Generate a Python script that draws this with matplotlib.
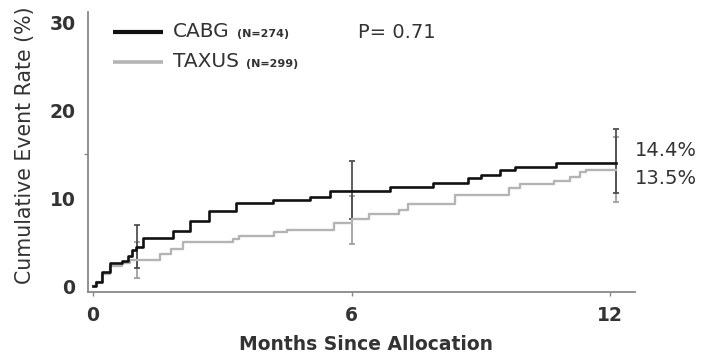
import matplotlib
matplotlib.use("Agg")
import matplotlib.pyplot as plt
import numpy as np

plt.rcParams['font.family'] = ['DejaVu Sans']

# ---- data ----
cabg_t = [0, 0.07, 0.2, 0.4, 0.67, 0.82, 0.9, 1.0, 1.16, 1.86, 2.25, 2.7, 3.33, 4.18, 5.04, 5.5,
          6.9, 7.9, 8.7, 9.0, 9.45, 9.8, 10.75, 12.15]
cabg_v = [0, 0.4, 1.6, 2.6, 2.9, 3.4, 4.1, 4.5, 5.5, 6.3, 7.4, 8.6, 9.4, 9.8, 10.1, 10.8,
          11.3, 11.7, 12.35, 12.7, 13.2, 13.6, 14.0, 14.0]
taxus_t = [0, 0.07, 0.2, 0.4, 0.67, 0.85, 1.55, 1.8, 2.1, 3.25, 3.4, 4.2, 4.5, 5.6, 6.0, 6.4,
           7.1, 7.3, 8.4, 9.65, 9.9, 10.7, 11.07, 11.3, 11.45, 12.15]
taxus_v = [0, 0.4, 1.4, 2.3, 2.6, 3.0, 3.6, 4.2, 5.0, 5.3, 5.7, 6.1, 6.4, 7.2, 7.6, 8.2,
           8.7, 9.3, 10.4, 11.2, 11.6, 12.0, 12.4, 13.0, 13.2, 13.2]

ci_x = [1.03, 6.0, 12.15]
cabg_ci_mid = [4.5, 10.8, 14.0]
cabg_ci_low = [2.0, 7.6, 10.6]
cabg_ci_high = [7.0, 14.2, 17.9]
taxus_ci_mid = [3.0, 7.6, 13.2]
taxus_ci_low = [0.9, 4.8, 9.6]
taxus_ci_high = [5.0, 10.2, 17.0]

x_ticks = [0, 6, 12]
y_ticks = [0, 10, 20, 30]
end_labels = ["14.4%", "13.5%"]
series_names = ["CABG", "TAXUS"]
series_n = ["(N=274)", "(N=299)"]
p_text = "P= 0.71"

TXT = '#333333'
BLACK = '#111111'
GRAY = '#b4b4b4'

fig = plt.figure(figsize=(7.07, 3.58), dpi=100)
ax = fig.add_axes([88/707, 1-292/358, (635-88)/707, (292-12)/358])
ppm = (610-93)/12.0
ppu = (286-22.7)/30.0
ax.set_xlim((88-93)/ppm, (635-93)/ppm)
ax.set_ylim((286-292)/ppu, (286-12)/ppu)

# error bars
ax.errorbar(ci_x, taxus_ci_mid,
            yerr=[np.array(taxus_ci_mid)-np.array(taxus_ci_low), np.array(taxus_ci_high)-np.array(taxus_ci_mid)],
            fmt='none', ecolor='#999999', elinewidth=1.2, capsize=2.5, capthick=1.2, zorder=2)
ax.errorbar(ci_x, cabg_ci_mid,
            yerr=[np.array(cabg_ci_mid)-np.array(cabg_ci_low), np.array(cabg_ci_high)-np.array(cabg_ci_mid)],
            fmt='none', ecolor='#444444', elinewidth=1.2, capsize=2.5, capthick=1.2, zorder=3)

ax.step(taxus_t, taxus_v, where='post', color=GRAY, lw=1.7, zorder=4)
ax.step(cabg_t, cabg_v, where='post', color=BLACK, lw=1.9, zorder=5)

# spines
for s in ['top', 'right']:
    ax.spines[s].set_visible(False)
for s in ['left', 'bottom']:
    ax.spines[s].set_color('#888888')
    ax.spines[s].set_linewidth(1.3)

ax.set_xticks(x_ticks)
ax.set_xticklabels([str(v) for v in x_ticks])
ax.set_yticks(y_ticks)
ax.set_yticklabels([str(v) for v in y_ticks])
ax.set_yticks([0, 15, 30], minor=True)
ax.tick_params(axis='y', which='major', length=0, pad=9, labelsize=13.5, labelcolor=TXT)
ax.tick_params(axis='y', which='minor', length=3, color='#888888', width=1)
ax.tick_params(axis='x', which='major', length=3, color='#888888', width=1, pad=7,
               labelsize=13.5, labelcolor=TXT)
for lab in ax.get_xticklabels() + ax.get_yticklabels():
    lab.set_fontweight('bold')

# end labels
ax.text((635-93)/ppm, (286-150)/ppu, end_labels[0], ha='left', va='center', fontsize=14,
        color=TXT, clip_on=False)
ax.text((635-93)/ppm, (286-178)/ppu, end_labels[1], ha='left', va='center', fontsize=14,
        color=TXT, clip_on=False)

# legend (manual)
leg_rows = [((286-31.7)/ppu, BLACK, 3.0), ((286-61.7)/ppu, GRAY, 2.6)]
for (yy, col, lw), name, n in zip(leg_rows, series_names, series_n):
    ax.plot([(113-93)/ppm, (163-93)/ppm], [yy, yy], color=col, lw=lw, solid_capstyle='butt')
    t = ax.text((173-93)/ppm, yy, name, ha='left', va='center', fontsize=14.5, color=TXT)
    ax.annotate(n, xy=(1, 0.12), xycoords=t, xytext=(5, 0), textcoords='offset points',
                ha='left', va='bottom', fontsize=8, color=TXT, fontweight='bold')

ax.text((358-93)/ppm, (286-33)/ppu, p_text, ha='left', va='center', fontsize=14, color=TXT)

fig.text(366/707, 1-345/358, "Months Since Allocation", ha='center', va='center',
         fontsize=13.5, color=TXT, fontweight='bold')
fig.text(25/707, 1-284/358, "Cumulative Event Rate (%)", ha='center', va='bottom',
         rotation=90, fontsize=14.8, color=TXT)

fig.savefig("out.png", dpi=100)
